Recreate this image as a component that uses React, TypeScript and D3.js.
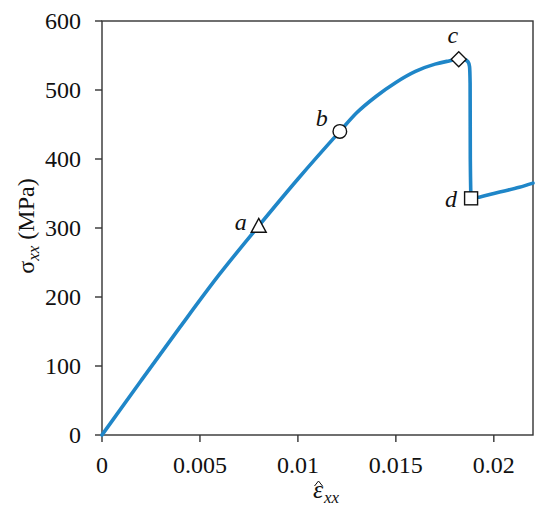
import React from "react";
import * as d3 from "d3";

const strain = [0, 0.002, 0.004, 0.006, 0.008, 0.010, 0.01214, 0.013, 0.014, 0.015, 0.016, 0.017, 0.0176, 0.01821, 0.0185, 0.01868, 0.01876, 0.01879, 0.0188, 0.01884, 0.0193, 0.0200, 0.0206, 0.0213, 0.0220];
const stress = [0, 79, 157, 233, 303, 371, 440, 467, 491, 511, 527, 537.5, 541.5, 544.5, 544, 541, 534, 510, 400, 343, 345, 350, 354, 359, 365];

const markerLabels = ["a", "b", "c", "d"];
const markerStrain = [0.008, 0.01214, 0.01821, 0.01884];
const markerStress = [303, 440, 544.5, 343];
const markerShapes = ["triangle", "circle", "diamond", "square"];

const xTicks = [0, 0.005, 0.01, 0.015, 0.02];
const xTickLabels = ["0", "0.005", "0.01", "0.015", "0.02"];
const yTicks = [0, 100, 200, 300, 400, 500, 600];

const W = 550, H = 512;
const L = 102, R = 533, T = 21, B = 435;

export default function App() {
  const x = d3.scaleLinear().domain([0, 0.022]).range([L, R]);
  const y = d3.scaleLinear().domain([0, 600]).range([B, T]);
  const pts: [number, number][] = strain.map((s, i) => [s, stress[i]]);
  const line = d3.line<[number, number]>().x(d => x(d[0])).y(d => y(d[1])).curve(d3.curveMonotoneX);
  const font = "Liberation Serif, Times New Roman, serif";
  const axisColor = "#333";
  const labelOffsets: [number, number][] = [[-18, 4], [-18, -5], [-6, -16], [-20, 9]];

  const marker = (shape: string, cx: number, cy: number, k: number) => {
    const st = { fill: "white", stroke: "#111", strokeWidth: 1.4 };
    if (shape === "triangle") {
      const s = 7.5;
      return <path key={k} d={`M${cx},${cy - s} L${cx + s},${cy + s * 0.85} L${cx - s},${cy + s * 0.85} Z`} {...st} />;
    }
    if (shape === "circle") return <circle key={k} cx={cx} cy={cy} r={6.8} {...st} />;
    if (shape === "diamond") {
      const s = 7.5;
      return <path key={k} d={`M${cx},${cy - s} L${cx + s},${cy} L${cx},${cy + s} L${cx - s},${cy} Z`} {...st} />;
    }
    return <rect key={k} x={cx - 6.5} y={cy - 6.5} width={13} height={13} {...st} />;
  };

  return (
    <svg width={W} height={H} style={{ position: "absolute", left: 0, top: 0, background: "white" }} fontFamily={font}>
      <rect x={L} y={T} width={R - L} height={B - T} fill="none" stroke={axisColor} strokeWidth={1.4} />
      {xTicks.map((t, i) => (
        <g key={"x" + i}>
          <line x1={x(t)} x2={x(t)} y1={B} y2={B + 7} stroke={axisColor} strokeWidth={1.4} />
          <text x={x(t)} y={473} textAnchor="middle" fontSize={24} fill="#111">{xTickLabels[i]}</text>
        </g>
      ))}
      {yTicks.map((t, i) => (
        <g key={"y" + i}>
          <line x1={L - 7} x2={L} y1={y(t)} y2={y(t)} stroke={axisColor} strokeWidth={1.4} />
          <text x={81} y={y(t) + 7.8} textAnchor="end" fontSize={24} fill="#111">{t}</text>
        </g>
      ))}
      <path d={line(pts) || ""} fill="none" stroke="#1f86c8" strokeWidth={3.6} strokeLinejoin="round" strokeLinecap="round" />
      {markerStrain.map((s, i) => {
        const cx = x(s), cy = y(markerStress[i]);
        return (
          <g key={"m" + i}>
            {marker(markerShapes[i], cx, cy, i)}
            <text x={cx + labelOffsets[i][0]} y={cy + labelOffsets[i][1]} textAnchor="middle" fontSize={24} fontStyle="italic" fill="#111">{markerLabels[i]}</text>
          </g>
        );
      })}
      <g transform="translate(34,226) rotate(-90)">
        <text textAnchor="middle" fontSize={24} fill="#111">
          <tspan>σ</tspan>
          <tspan fontSize={17} fontStyle="italic" dy={5}>xx</tspan>
          <tspan dy={-5}> (MPa)</tspan>
        </text>
      </g>
      <g>
        <text x={318} y={498} textAnchor="middle" fontSize={26} fontStyle="italic" fill="#111">ε</text>
        <path d="M314.5,486 L318.5,481 L322.5,486" fill="none" stroke="#111" strokeWidth={1} />
        <text x={324} y={503} fontSize={17} fontStyle="italic" fill="#111">xx</text>
      </g>
    </svg>
  );
}
